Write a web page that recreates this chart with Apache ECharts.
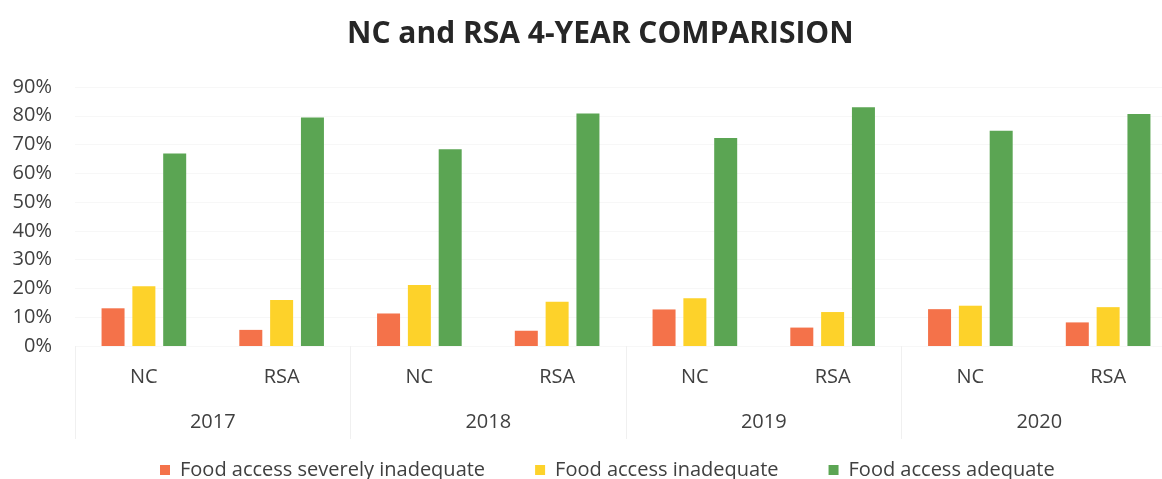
<!DOCTYPE html>
<html>
<head>
<meta charset="utf-8">
<script src="https://cdn.jsdelivr.net/npm/echarts@6/dist/echarts.min.js"></script>
<style>
  html, body { margin: 0; padding: 0; background: #ffffff; }
  #chart { width: 1162px; height: 479px; }
</style>
</head>
<body>
<div id="chart"></div>
<script>
// Region labels (inner axis) and years (outer axis)
const regions = ['NC', 'RSA', 'NC', 'RSA', 'NC', 'RSA', 'NC', 'RSA'];
const years = ['2017', '2018', '2019', '2020'];

// Share of households by food access level, in percent
const severelyInadequate = [13.1, 5.6, 11.3, 5.3, 12.7, 6.4, 12.8, 8.2];
const inadequate = [20.8, 16.0, 21.2, 15.4, 16.6, 11.8, 14.0, 13.5];
const adequate = [66.9, 79.4, 68.4, 80.8, 72.3, 83.0, 74.8, 80.6];

const seriesNames = ['Food access severely inadequate', 'Food access inadequate', 'Food access adequate'];
const seriesColors = ['#f4724a', '#fdd22a', '#5ba553'];

const font = '"Open Sans", "Noto Sans", sans-serif';
const textColor = '#404040';

const chart = echarts.init(document.getElementById('chart'), null, { renderer: 'canvas' });

function bar(name, values, color) {
  return {
    name: name,
    type: 'bar',
    xAxisIndex: 0,
    data: values,
    barWidth: 23,
    barGap: '34%',
    itemStyle: { color: color },
    emphasis: { disabled: true }
  };
}

chart.setOption({
  animation: false,
  backgroundColor: '#ffffff',
  title: {
    text: 'NC and RSA 4-YEAR COMPARISION',
    left: 342,
    top: 14,
    textStyle: { fontFamily: font, fontSize: 30, fontWeight: 'bold', color: '#262626' }
  },
  legend: {
    data: seriesNames,
    left: 155,
    top: 455,
    icon: 'rect',
    itemWidth: 10,
    itemHeight: 10,
    itemGap: 50,
    textStyle: { fontFamily: font, fontSize: 20, color: textColor, padding: [0, 0, 0, 5] }
  },
  // plot area runs slightly past the right edge of the canvas
  grid: { left: 75, width: 1102, top: 87, bottom: 133, outerBoundsMode: 'none', containLabel: false },
  xAxis: [
    {
      type: 'category',
      data: regions,
      position: 'bottom',
      axisLine: { show: false },
      axisTick: { show: false },
      axisLabel: { fontFamily: font, fontSize: 20, color: textColor, margin: 21 }
    },
    {
      type: 'category',
      data: years,
      position: 'bottom',
      axisLine: { show: false },
      axisTick: { show: true, length: 93, lineStyle: { color: '#f0f0f0', width: 1 } },
      axisLabel: { fontFamily: font, fontSize: 20, color: textColor, margin: 66 }
    }
  ],
  yAxis: {
    type: 'value',
    min: 0,
    max: 90,
    interval: 10,
    axisLine: { show: false },
    axisTick: { show: false },
    splitLine: { lineStyle: { color: '#f7f7f7' } },
    axisLabel: { formatter: '{value}%', fontFamily: font, fontSize: 20, color: textColor, margin: 23 }
  },
  series: [
    bar(seriesNames[0], severelyInadequate, seriesColors[0]),
    bar(seriesNames[1], inadequate, seriesColors[1]),
    bar(seriesNames[2], adequate, seriesColors[2])
  ]
});
</script>
</body>
</html>
